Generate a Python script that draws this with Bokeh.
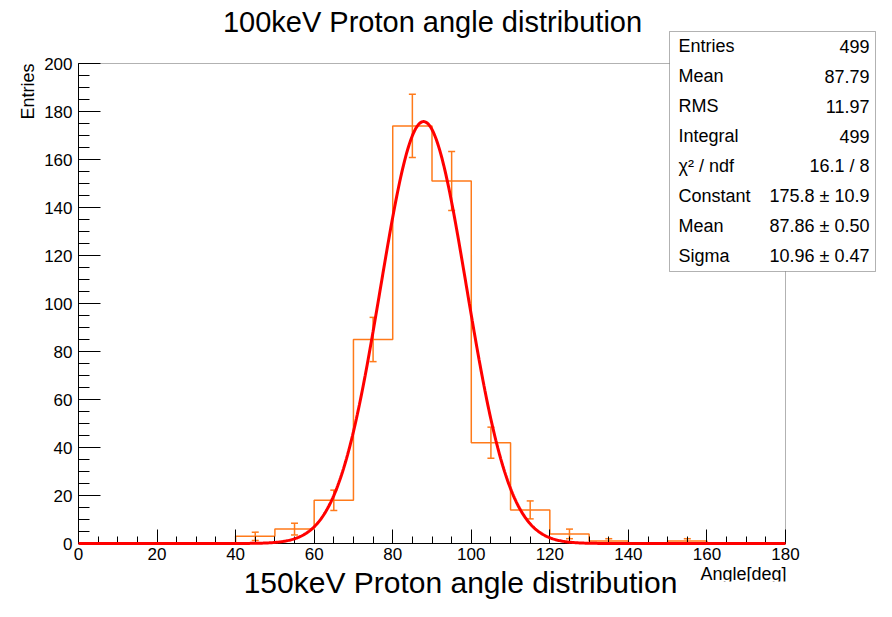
import numpy as np
from bokeh.plotting import figure
from bokeh.models import (ColumnDataSource, Label, BoxAnnotation, Whisker, TeeHead,
                          SingleIntervalTicker, Range1d)
from bokeh.embed import file_html
from bokeh.resources import INLINE

# ---- data ----
bin_edges = list(range(0, 190, 10))
counts = [0, 0, 0, 0, 3, 6, 18, 85, 174, 151, 42, 14, 4, 1, 0, 1, 0, 0]
fit_constant = 175.8
fit_mean = 87.86
fit_sigma = 10.96
stat_names = ["Entries", "Mean", "RMS", "Integral", "\u03c7\u00b2 / ndf", "Constant", "Mean", "Sigma"]
stat_values = ["499", "87.79", "11.97", "499", "16.1 / 8", "175.8 \u00b1 10.9", "87.86 \u00b1 0.50", "10.96 \u00b1 0.47"]
title_top = "100keV Proton angle distribution"
title_bottom = "150keV Proton angle distribution"
x_label = "Angle[deg]"
y_label = "Entries"
x_min, x_max = 0, 180
y_min, y_max = 0, 200

FONT = "Liberation Sans"
ORANGE = "#ff7a1a"

# ---- layout in canvas pixels ----
W, H = 876, 601
PX0, PX1 = 78, 785     # pixel of x_min / x_max
PY0, PY1 = 543, 63     # pixel of y_min / y_max
kx = (PX1 - PX0) / (x_max - x_min)
ky = (PY0 - PY1) / (y_max - y_min)

p = figure(width=W, height=H, output_backend="svg", toolbar_location=None,
           x_range=Range1d(x_min - PX0 / kx, x_max + (W - PX1) / kx),
           y_range=Range1d(y_min - (H - PY0) / ky, y_max + PY1 / ky),
           min_border=0)
p.title.visible = False
p.grid.visible = False
p.outline_line_color = None
p.background_fill_color = "white"
p.border_fill_color = "white"

for ax, tin, mtin, b in ((p.xaxis[0], 14, 7, (x_min, x_max)), (p.yaxis[0], 22, 11, (y_min, y_max))):
    ax.fixed_location = 0
    ax.bounds = b
    ax.ticker = SingleIntervalTicker(interval=20, num_minor_ticks=4)
    ax.major_tick_in = tin
    ax.major_tick_out = 0
    ax.minor_tick_in = mtin
    ax.minor_tick_out = 0
    ax.axis_line_color = "black"
    ax.major_tick_line_color = "black"
    ax.minor_tick_line_color = "black"
    ax.major_label_text_font = FONT
    ax.major_label_text_font_size = "17px"
    ax.major_label_text_color = "black"
p.xaxis.major_label_standoff = 4
p.yaxis.major_label_standoff = 6

# frame box
p.add_layout(BoxAnnotation(left=x_min, right=x_max, bottom=y_min, top=y_max,
                           fill_color=None, line_color="black", line_width=1, level="guide"))

# histogram step outline
step_y = counts + [counts[-1]]
p.step(x=bin_edges, y=step_y, mode="after", line_color=ORANGE, line_width=1.5)

# error bars (sqrt N) for non-empty bins
centers = [(bin_edges[i] + bin_edges[i + 1]) / 2 for i in range(len(counts))]
ec = [c for c, n in zip(centers, counts) if n > 0]
en = [n for n in counts if n > 0]
err_src = ColumnDataSource(dict(x=ec, upper=[n + np.sqrt(n) for n in en], lower=[n - np.sqrt(n) for n in en]))
p.add_layout(Whisker(base="x", upper="upper", lower="lower", source=err_src,
                     line_color=ORANGE, line_width=1.5,
                     upper_head=TeeHead(size=7, line_color=ORANGE, line_width=1.5),
                     lower_head=TeeHead(size=7, line_color=ORANGE, line_width=1.5)))

# gaussian fit curve from the fit parameters
xf = np.linspace(x_min, x_max, 721)
yf = fit_constant * np.exp(-0.5 * ((xf - fit_mean) / fit_sigma) ** 2)
p.line(xf, yf, line_color="red", line_width=3, level="annotation")

SHIFT = 0.36  # baseline correction, in em


def lab(x, y, text, size, align="left", angle=0.0, level="annotation"):
    # x, y: canvas pixels (from the top-left corner) of the text baseline
    px = float(size.replace("px", ""))
    if angle:
        x = x - SHIFT * px
    else:
        y = y - SHIFT * px
    p.add_layout(Label(x=x, y=H - y, x_units="screen", y_units="screen", text=text,
                       text_align=align, text_baseline="alphabetic", angle=angle,
                       text_font=FONT, text_font_size=size, text_color="black", level=level))


def box(l, r, t, b, fill, line):
    p.add_layout(BoxAnnotation(left=l, right=r, top=H - t, bottom=H - b,
                               left_units="screen", right_units="screen",
                               top_units="screen", bottom_units="screen",
                               fill_color=fill, fill_alpha=1.0, line_color=line, line_width=1,
                               level="overlay"))


# texts
lab(432, 31.5, title_top, "29px", "center")
lab(460, 593, title_bottom, "30px", "center")
lab(786, 580, x_label, "18px", "right")
box(690, 800, 581, 601, "white", None)   # the x title is cut at the pad edge
lab(34, 63, y_label, "18px", "right", angle=np.pi / 2)

# stats box
box(669, 875, 31, 271, "white", "black")
row_base = [52, 82, 112, 142, 172, 202, 232, 262]
for name, val, yy in zip(stat_names, stat_values, row_base):
    lab(678, yy, name, "18px", "left", level="overlay")
    lab(869, yy, val, "18px", "right", level="overlay")

open("out.html", "w").write(file_html(p, INLINE))
